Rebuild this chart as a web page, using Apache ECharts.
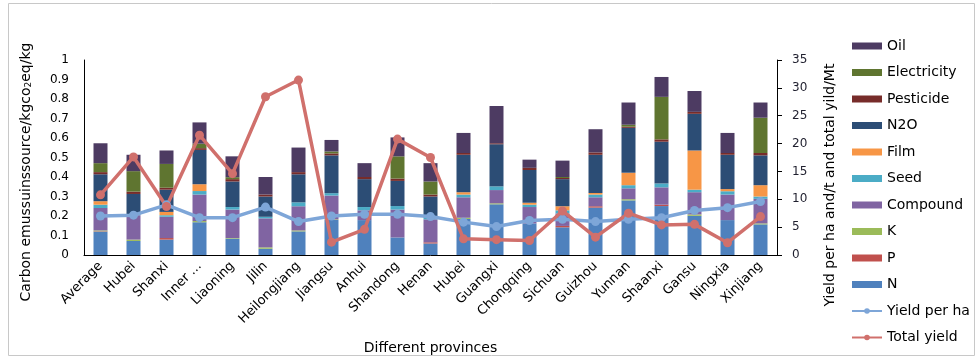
<!DOCTYPE html>
<html>
<head>
<meta charset="utf-8">
<script src="https://cdn.jsdelivr.net/npm/echarts@6/dist/echarts.min.js"></script>
<style>
  html, body { margin: 0; padding: 0; background: #fff; }
  #chart { width: 978px; height: 360px; }
</style>
</head>
<body>
<div id="chart"></div>
<script>
// Provinces along the x axis
const provinces = ['Average', 'Hubei', 'Shanxi', 'Inner ...', 'Liaoning', 'Jilin', 'Heilongjiang',
  'Jiangsu', 'Anhui', 'Shandong', 'Henan', 'Hubei', 'Guangxi', 'Chongqing', 'Sichuan',
  'Guizhou', 'Yunnan', 'Shaanxi', 'Gansu', 'Ningxia', 'Xinjiang'];

// Carbon emission by source (kg CO2 eq / kg), stacked from the bottom
const N =           [0.120, 0.072, 0.079, 0.168, 0.084, 0.032, 0.121, 0.180, 0.179, 0.090, 0.059, 0.185, 0.260, 0.162, 0.142, 0.243, 0.280, 0.251, 0.201, 0.179, 0.157];
const P =           [0.002, 0.000, 0.008, 0.000, 0.000, 0.000, 0.000, 0.000, 0.000, 0.000, 0.006, 0.000, 0.000, 0.000, 0.007, 0.007, 0.000, 0.007, 0.000, 0.000, 0.000];
const K =           [0.004, 0.007, 0.000, 0.006, 0.003, 0.007, 0.005, 0.003, 0.000, 0.000, 0.000, 0.006, 0.005, 0.000, 0.000, 0.000, 0.006, 0.000, 0.007, 0.000, 0.005];
const Compound =    [0.115, 0.125, 0.109, 0.136, 0.146, 0.149, 0.124, 0.122, 0.050, 0.143, 0.118, 0.105, 0.068, 0.084, 0.064, 0.046, 0.056, 0.089, 0.114, 0.131, 0.126];
const Seed =        [0.017, 0.006, 0.008, 0.018, 0.013, 0.008, 0.020, 0.012, 0.017, 0.018, 0.010, 0.014, 0.019, 0.012, 0.016, 0.014, 0.016, 0.020, 0.013, 0.017, 0.012];
const Film =        [0.018, 0.000, 0.017, 0.035, 0.000, 0.000, 0.000, 0.000, 0.000, 0.000, 0.000, 0.012, 0.000, 0.010, 0.021, 0.008, 0.064, 0.000, 0.201, 0.011, 0.058];
const N2O =         [0.138, 0.103, 0.114, 0.176, 0.131, 0.104, 0.144, 0.194, 0.143, 0.129, 0.107, 0.192, 0.216, 0.168, 0.139, 0.196, 0.230, 0.214, 0.188, 0.176, 0.153];
const Pesticide =   [0.011, 0.012, 0.010, 0.009, 0.012, 0.010, 0.011, 0.010, 0.011, 0.012, 0.010, 0.009, 0.005, 0.011, 0.006, 0.012, 0.006, 0.012, 0.010, 0.009, 0.012];
const Electricity = [0.046, 0.105, 0.122, 0.023, 0.010, 0.000, 0.000, 0.010, 0.000, 0.114, 0.067, 0.000, 0.000, 0.000, 0.005, 0.000, 0.010, 0.218, 0.000, 0.000, 0.181];
const Oil =         [0.102, 0.084, 0.069, 0.109, 0.107, 0.090, 0.126, 0.059, 0.071, 0.097, 0.094, 0.103, 0.191, 0.042, 0.084, 0.119, 0.114, 0.102, 0.107, 0.103, 0.078];

// Yield per ha (t) and total yield (Mt), right axis
const yieldPerHa = [7.0, 7.15, 9.0, 6.7, 6.7, 8.6, 6.0, 7.0, 7.3, 7.3, 6.9, 5.9, 5.1, 6.2, 6.4, 6.0, 6.4, 6.7, 8.0, 8.5, 9.6];
const totalYield = [10.8, 17.6, 8.7, 21.5, 14.6, 28.4, 31.4, 2.3, 4.6, 20.8, 17.5, 2.9, 2.75, 2.6, 7.9, 3.2, 7.5, 5.4, 5.5, 2.2, 6.9];

// Tick labels
const leftTicks = [0, 0.1, 0.2, 0.3, 0.4, 0.5, 0.6, 0.7, 0.8, 0.9, 1];
const rightTicks = [0, 5, 10, 15, 20, 25, 30, 35];

const FONT = 'DejaVu Sans';

const stackParts = [
  { name: 'N', data: N, color: '#4F81BD' },
  { name: 'P', data: P, color: '#C0504D' },
  { name: 'K', data: K, color: '#9BBB59' },
  { name: 'Compound', data: Compound, color: '#8064A2' },
  { name: 'Seed', data: Seed, color: '#4BACC6' },
  { name: 'Film', data: Film, color: '#F79646' },
  { name: 'N2O', data: N2O, color: '#2C4D75' },
  { name: 'Pesticide', data: Pesticide, color: '#772C2A' },
  { name: 'Electricity', data: Electricity, color: '#5F7530' },
  { name: 'Oil', data: Oil, color: '#4D3B62' }
];

const barSeries = stackParts.map(p => ({
  name: p.name,
  type: 'bar',
  stack: 'emission',
  yAxisIndex: 0,
  barWidth: 14,
  itemStyle: { color: p.color },
  emphasis: { disabled: true },
  data: p.data
}));

const lineSeries = [
  { name: 'Yield per ha', data: yieldPerHa, color: '#7EA6D8' },
  { name: 'Total yield', data: totalYield, color: '#D0706C' }
].map(l => ({
  name: l.name,
  type: 'line',
  yAxisIndex: 1,
  symbol: 'circle',
  symbolSize: 9,
  lineStyle: { color: l.color, width: 3.5 },
  itemStyle: { color: l.color },
  z: 5,
  data: l.data
}));

const chart = echarts.init(document.getElementById('chart'), null, { renderer: 'canvas' });

chart.setOption({
  animation: false,
  backgroundColor: '#ffffff',
  textStyle: { fontFamily: FONT },
  grid: { left: 84, right: 201, top: 60, bottom: 101, containLabel: false },
  legend: {
    orient: 'vertical',
    left: 846,
    top: 34,
    itemWidth: 30,
    itemHeight: 7,
    itemGap: 12.5,
    textStyle: { fontFamily: FONT, fontSize: 14, color: '#000', lineHeight: 14 },
    data: [
      { name: 'Oil', icon: 'rect' },
      { name: 'Electricity', icon: 'rect' },
      { name: 'Pesticide', icon: 'rect' },
      { name: 'N2O', icon: 'rect' },
      { name: 'Film', icon: 'rect' },
      { name: 'Seed', icon: 'rect' },
      { name: 'Compound', icon: 'rect' },
      { name: 'K', icon: 'rect' },
      { name: 'P', icon: 'rect' },
      { name: 'N', icon: 'rect' },
      'Yield per ha',
      'Total yield'
    ]
  },
  xAxis: {
    type: 'category',
    data: provinces,
    axisLine: { lineStyle: { color: '#000', width: 1 } },
    axisTick: { show: false },
    axisLabel: { interval: 0, rotate: 45, fontSize: 13, color: '#000', fontFamily: FONT, margin: 9 },
    name: 'Different provinces',
    nameLocation: 'middle',
    nameGap: 86,
    nameTextStyle: { fontSize: 14, color: '#000', fontFamily: FONT }
  },
  yAxis: [
    {
      type: 'value',
      min: leftTicks[0],
      max: leftTicks[leftTicks.length - 1],
      interval: 0.1,
      axisLine: { show: true, lineStyle: { color: '#000', width: 1 } },
      axisTick: { show: false },
      splitLine: { show: false },
      axisLabel: {
        fontSize: 12, color: '#000', fontFamily: FONT, margin: 15,
        formatter: v => String(leftTicks.reduce((a, b) => Math.abs(b - v) < Math.abs(a - v) ? b : a))
      }
    },
    {
      type: 'value',
      position: 'right',
      min: rightTicks[0],
      max: rightTicks[rightTicks.length - 1],
      interval: 5,
      axisLine: { show: true, lineStyle: { color: '#000', width: 1 } },
      axisTick: { show: true, length: 5, lineStyle: { color: '#000' } },
      splitLine: { show: false },
      axisLabel: { fontSize: 12, color: '#1f1f2e', fontFamily: FONT, margin: 15 }
    }
  ],
  graphic: [
    {
      type: 'rect',
      shape: { x: 8.5, y: 3.5, width: 966, height: 352 },
      style: { fill: 'none', stroke: '#c8c8c8', lineWidth: 1 },
      silent: true,
      z: -1
    },
    {
      type: 'text',
      x: 26, y: 172,
      rotation: Math.PI / 2,
      style: {
        text: '{t|Carbon emussuinssource/kgco}{s|2}{t|eq/kg}',
        align: 'center', verticalAlign: 'middle',
        rich: {
          t: { fontFamily: FONT, fontSize: 14, fill: '#000' },
          s: { fontFamily: FONT, fontSize: 9, fill: '#000', padding: [6, 0, 0, 0] }
        }
      }
    },
    {
      type: 'text',
      x: 830, y: 185,
      rotation: Math.PI / 2,
      style: {
        text: 'Yield per ha and/t and total yild/Mt',
        align: 'center', verticalAlign: 'middle',
        fontFamily: FONT, fontSize: 14, fill: '#000'
      }
    }
  ],
  series: barSeries.concat(lineSeries)
});
</script>
</body>
</html>
